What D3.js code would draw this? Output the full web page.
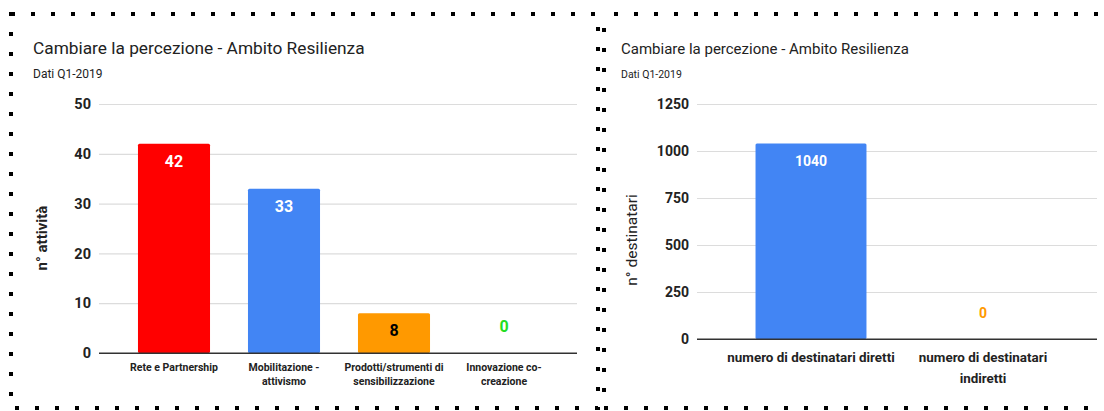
<!DOCTYPE html>
<html><head><meta charset="utf-8">
<script src="https://cdn.jsdelivr.net/npm/d3@7"></script>
<style>
body{margin:0;background:#fff;}
svg{display:block;font-family:Roboto, sans-serif;}
</style></head>
<body>
<svg id="c" width="1104" height="411"></svg>
<script>
const titleText = "Cambiare la percezione - Ambito Resilienza";
const subtitleText = "Dati Q1-2019";

const leftCategories = [["Rete e Partnership"], ["Mobilitazione -", "attivismo"], ["Prodotti/strumenti di", "sensibilizzazione"], ["Innovazione co-", "creazione"]];
const leftValues = [42, 33, 8, 0];
const leftColors = ["#ff0000", "#4285f4", "#ff9900", "#00ff00"];
const leftLabelColors = ["#ffffff", "#ffffff", "#000000", "#22dd22"];
const leftTicks = [0, 10, 20, 30, 40, 50];
const leftAxisTitle = "n° attività";

const rightCategories = [["numero di destinatari diretti"], ["numero di destinatari", "indiretti"]];
const rightValues = [1040, 0];
const rightColors = ["#4285f4", "#ff9900"];
const rightLabelColors = ["#ffffff", "#ff9900"];
const rightTicks = [0, 250, 500, 750, 1000, 1250];
const rightAxisTitle = "n° destinatari";

const svg = d3.select("#c");

// dotted borders
svg.append("rect").attr("x", 11).attr("y", 14).attr("width", 587).attr("height", 394)
  .attr("fill", "none").attr("stroke", "#000").attr("stroke-width", 4).attr("stroke-dasharray", "4,16");
svg.append("rect").attr("x", 604).attr("y", 14).attr("width", 520).attr("height", 394)
  .attr("fill", "none").attr("stroke", "#000").attr("stroke-width", 4).attr("stroke-dasharray", "4,16").attr("stroke-dashoffset", 10);

function chart(o) {
  const g = svg.append("g");
  g.append("text").attr("x", o.tx).attr("y", 54).attr("font-size", o.titleSize).attr("fill", "#222").text(titleText);
  g.append("text").attr("x", o.tx).attr("y", 78).attr("font-size", o.subSize).attr("fill", "#222").text(subtitleText);

  const y = d3.scaleLinear().domain([0, o.ticks[o.ticks.length - 1]]).range([o.y0, o.y1]);
  const x = d3.scaleBand().domain(d3.range(o.values.length)).range(o.xr).paddingInner(o.pad).paddingOuter(o.pad / 2);

  const ya = g.append("g").attr("transform", `translate(${o.gx0},0)`)
    .call(d3.axisLeft(y).tickValues(o.ticks).tickSize(-(o.gx1 - o.gx0)).tickPadding(8).tickFormat(d3.format("d")));
  ya.select(".domain").remove();
  ya.selectAll(".tick line").attr("stroke", "#dcdcdc").attr("stroke-width", 1.2);
  ya.selectAll(".tick").filter(d => d === 0).select("line").attr("stroke", "#333");
  ya.selectAll(".tick text").attr("font-size", o.tickSize).attr("font-weight", "bold").attr("fill", "#222").attr("font-family", "Roboto");

  g.append("text").attr("transform", `translate(${o.atx},${o.aty}) rotate(-90)`)
    .attr("text-anchor", "middle").attr("font-size", o.atSize).attr("font-weight", o.atWeight).attr("fill", "#222").text(o.axisTitle);

  g.selectAll("rect.bar").data(o.values).join("rect").attr("class", "bar")
    .attr("x", (d, i) => x(i)).attr("width", x.bandwidth())
    .attr("y", d => y(d)).attr("height", d => o.y0 - y(d))
    .attr("fill", (d, i) => o.colors[i]).attr("rx", 1.5);
  g.append("line").attr("x1", o.gx0).attr("x2", o.gx1).attr("y1", o.y0).attr("y2", o.y0).attr("stroke", "#333").attr("stroke-width", 1.2);

  g.selectAll("text.val").data(o.values).join("text").attr("class", "val")
    .attr("x", (d, i) => x(i) + x.bandwidth() / 2)
    .attr("y", d => d > 0 ? y(d) + 23 : o.y0 - 21)
    .attr("text-anchor", "middle").attr("font-size", o.valSize).attr("font-weight", "bold")
    .attr("fill", (d, i) => o.labelColors[i]).text(d => d);

  o.cats.forEach((lines, i) => {
    const t = g.append("text").attr("x", x(i) + x.bandwidth() / 2).attr("y", o.y0 + o.lab0)
      .attr("text-anchor", "middle").attr("font-size", o.labSize).attr("font-weight", "bold").attr("fill", "#222");
    lines.forEach((l, j) => t.append("tspan").attr("x", x(i) + x.bandwidth() / 2).attr("dy", j === 0 ? 0 : o.labLH).text(l));
  });
}

chart({tx: 33, titleSize: 17.3, subSize: 12, values: leftValues, colors: leftColors, labelColors: leftLabelColors, ticks: leftTicks, cats: leftCategories,
  axisTitle: leftAxisTitle, y0: 353, y1: 104, xr: [119, 559], pad: 0.345, gx0: 99, gx1: 577, tickSize: 14.5,
  atx: 47, aty: 238, atSize: 15, atWeight: "bold",
  valSize: 16, labSize: 10.5, lab0: 18, labLH: 14});

chart({tx: 621, titleSize: 15, subSize: 10.5, values: rightValues, colors: rightColors, labelColors: rightLabelColors, ticks: rightTicks, cats: rightCategories,
  axisTitle: rightAxisTitle, y0: 339, y1: 104, xr: [725, 1069], pad: 0.355, gx0: 697, gx1: 1097, tickSize: 14,
  atx: 637, aty: 240, atSize: 15.5, atWeight: "normal",
  valSize: 14, labSize: 13.4, lab0: 23, labLH: 21});
</script>
</body></html>
